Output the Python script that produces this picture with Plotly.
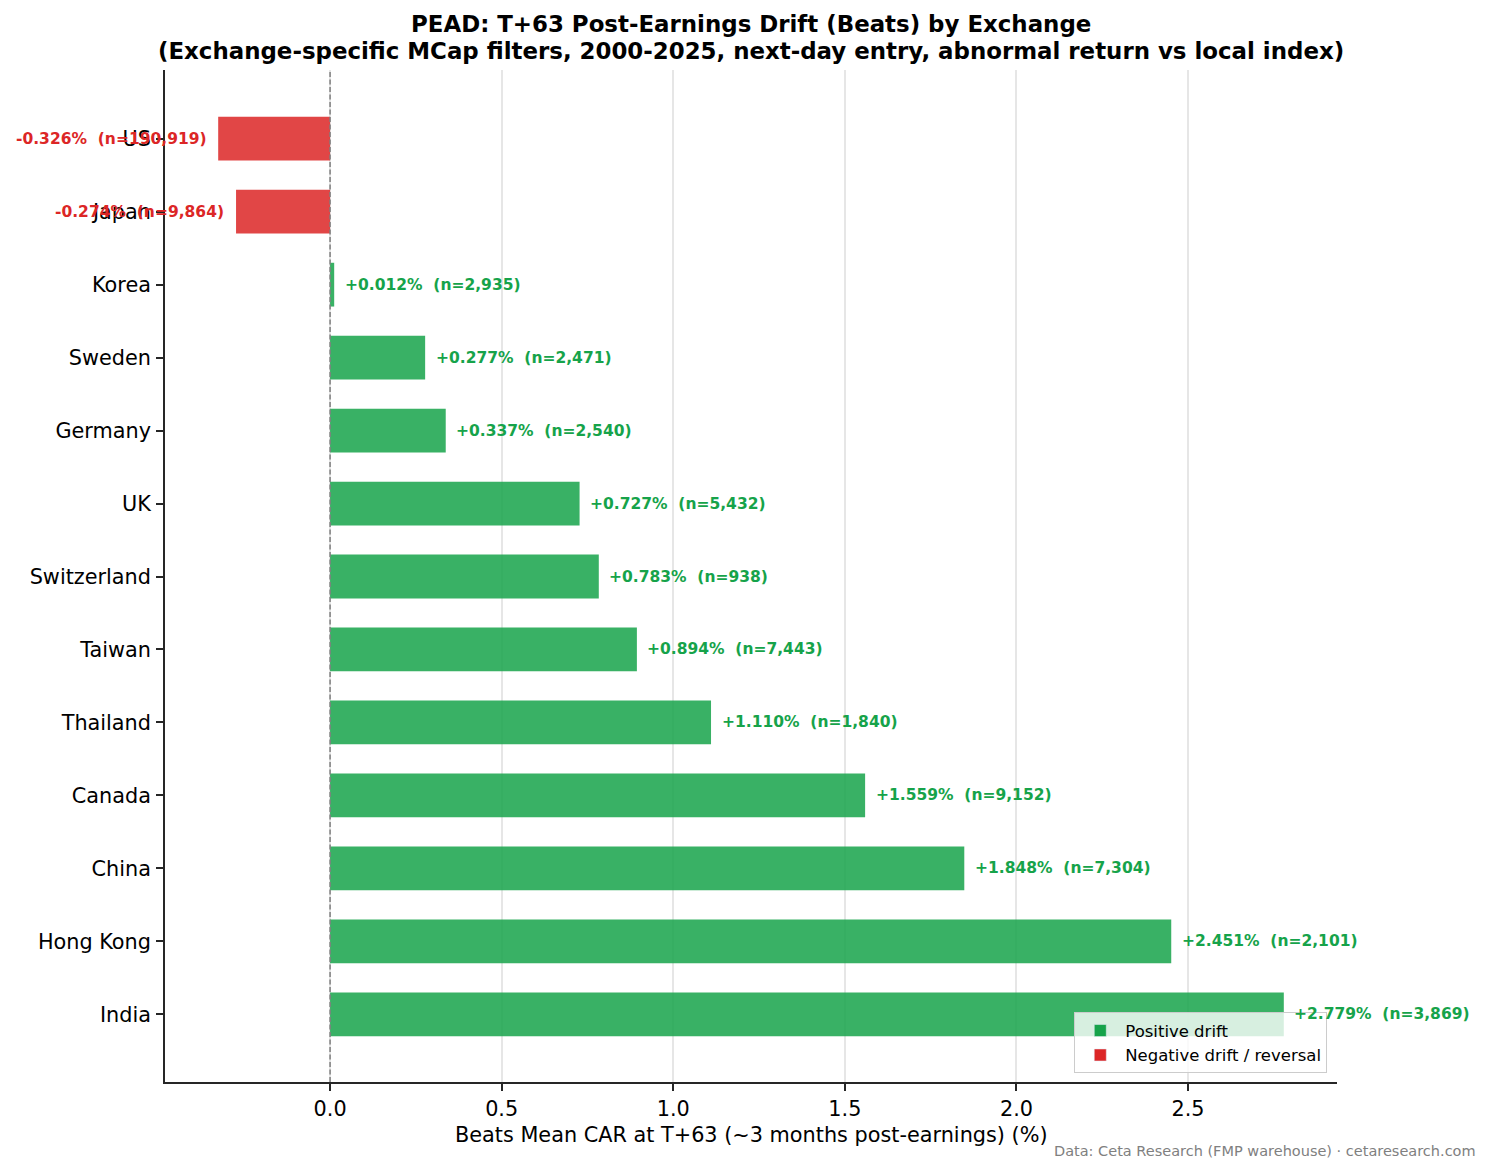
import plotly.graph_objects as go

exchanges = ["US", "Japan", "Korea", "Sweden", "Germany", "UK", "Switzerland",
             "Taiwan", "Thailand", "Canada", "China", "Hong Kong", "India"]
car_values = [-0.326, -0.274, 0.012, 0.277, 0.337, 0.727, 0.783,
              0.894, 1.110, 1.559, 1.848, 2.451, 2.779]
n_events = [190919, 9864, 2935, 2471, 2540, 5432, 938,
            7443, 1840, 9152, 7304, 2101, 3869]

POS = "#16a34a"
NEG = "#dc2626"
POS_A = "rgba(22,163,74,0.85)"
NEG_A = "rgba(220,38,38,0.85)"
FONT = "DejaVu Sans"

bar_colors = [POS_A if v >= 0 else NEG_A for v in car_values]

fig = go.Figure()
fig.add_trace(go.Bar(
    x=car_values, y=exchanges, orientation="h", width=0.6,
    marker=dict(color=bar_colors, line=dict(width=0)),
    showlegend=False, hoverinfo="x+y",
))
fig.add_trace(go.Bar(x=[None], y=[None], orientation="h", name="Positive drift",
                     marker=dict(color=POS)))
fig.add_trace(go.Bar(x=[None], y=[None], orientation="h", name="Negative drift / reversal",
                     marker=dict(color=NEG)))

annotations = []
for ex, v, n in zip(exchanges, car_values, n_events):
    sign = "+" if v >= 0 else ""
    txt = f"<b>{sign}{v:.3f}%\u00a0 (n={n:,})</b>"
    annotations.append(dict(
        x=v + (0.025 if v >= 0 else -0.028), y=ex, xref="x", yref="y",
        text=txt, showarrow=False,
        xanchor="left" if v >= 0 else "right", yanchor="middle",
        font=dict(family=FONT, size=15.5, color=POS if v >= 0 else NEG),
    ))

# titles
annotations.append(dict(
    x=0.5, y=(1081.7 - 24.5) / 1011.7, xref="paper", yref="paper",
    text="<b>PEAD: T+63 Post-Earnings Drift (Beats) by Exchange</b>",
    showarrow=False, xanchor="center", yanchor="middle",
    font=dict(family=FONT, size=22.9, color="#000000")))
annotations.append(dict(
    x=0.5, y=(1081.7 - 51.5) / 1011.7, xref="paper", yref="paper",
    text="<b>(Exchange-specific MCap filters, 2000-2025, next-day entry, abnormal return vs local index)</b>",
    showarrow=False, xanchor="center", yanchor="middle",
    font=dict(family=FONT, size=22.9, color="#000000")))
annotations.append(dict(
    x=0.5, y=(1081.7 - 1135) / 1011.7, xref="paper", yref="paper",
    text="Beats Mean CAR at T+63 (~3 months post-earnings) (%)",
    showarrow=False, xanchor="center", yanchor="middle",
    font=dict(family=FONT, size=20.8, color="#000000")))
annotations.append(dict(
    x=(1478 - 165) / 1171.7, y=(1081.7 - 1151) / 1011.7, xref="paper", yref="paper",
    text="Data: Ceta Research (FMP warehouse) · cetaresearch.com",
    showarrow=False, xanchor="right", yanchor="middle",
    font=dict(family=FONT, size=14.5, color="#808080")))

fig.update_layout(
    width=1492, height=1173,
    margin=dict(l=165, r=155.3, t=70, b=91.3),
    paper_bgcolor="white", plot_bgcolor="white",
    barmode="overlay",
    font=dict(family=FONT, color="#000000"),
    annotations=annotations,
    shapes=[dict(type="line", xref="x", yref="paper", x0=0, x1=0, y0=0, y1=1,
                 line=dict(color="#808080", width=1.5, dash="5px,2.5px"), layer="above")],
    legend=dict(x=0.9917, y=0.0086, xanchor="right", yanchor="bottom",
                bgcolor="rgba(255,255,255,0.8)", bordercolor="#cccccc", borderwidth=1,
                font=dict(family=FONT, size=16.5, color="#000000"),
                traceorder="normal", itemwidth=40),
)
fig.update_xaxes(
    range=[-0.481, 2.934], tick0=0, dtick=0.5, tickformat=".1f",
    showgrid=True, gridcolor="#e6e6e6", gridwidth=1.5, zeroline=False,
    showline=True, linecolor="#262626", linewidth=1.7, mirror=False,
    ticks="outside", ticklen=7, tickwidth=1.7, tickcolor="#262626",
    tickfont=dict(family=FONT, size=20.8, color="#000000"),
)
fig.update_yaxes(
    type="category", categoryorder="array", categoryarray=exchanges,
    range=[12.928, -0.942], showgrid=False, zeroline=False,
    showline=True, linecolor="#262626", linewidth=1.7,
    ticks="outside", ticklen=7, tickwidth=1.7, tickcolor="#262626",
    ticklabelstandoff=1,
    tickfont=dict(family=FONT, size=20.8, color="#000000"),
)

fig.write_html("out.html")
